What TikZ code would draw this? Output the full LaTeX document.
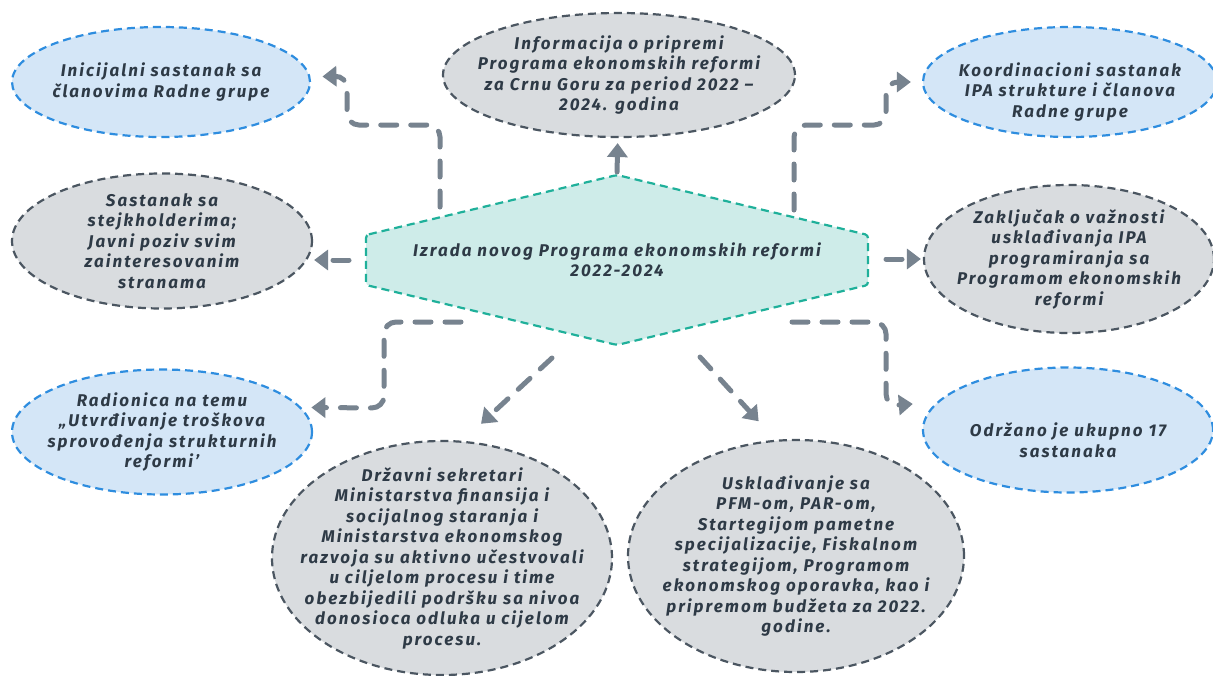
\documentclass[tikz,border=0pt]{standalone}
\usepackage{fontspec}
\setmainfont{Fira Sans}[LetterSpace=12]
\usetikzlibrary{shapes.geometric,arrows.meta}
\definecolor{bluefill}{HTML}{D4E6F7}
\definecolor{blueline}{HTML}{2E8DDF}
\definecolor{grayfill}{HTML}{D9DCDF}
\definecolor{grayline}{HTML}{4B5661}
\definecolor{hexfill}{HTML}{CEECE9}
\definecolor{hexline}{HTML}{1FB09A}
\definecolor{connline}{HTML}{77838F}
\definecolor{txtcol}{HTML}{2E3A46}
\begin{document}
\begin{tikzpicture}[x=1pt,y=-1pt,
  every node/.style={font=\fontsize{17}{20.5}\selectfont\bfseries\itshape,text=txtcol,align=center},
  bubble/.style={ellipse,inner sep=0pt,line width=2.2pt,dash pattern=on 8pt off 5pt},
  bluebubble/.style={bubble,draw=blueline,fill=bluefill},
  graybubble/.style={bubble,draw=grayline,fill=grayfill},
  conn/.style={draw=connline,line width=5pt,line cap=round,dash pattern=on 16pt off 14pt,
    rounded corners=12pt,-{Triangle[length=14pt,width=20pt]}}]
\useasboundingbox (0,0) rectangle (1213,675);
% centre
\path[draw=hexline,fill=hexfill,line width=2.2pt,dash pattern=on 8pt off 5pt,rounded corners=3pt]
  (366,235) -- (617,175) -- (868,235) -- (868,285) -- (617,345) -- (366,285) -- cycle;
\node (izr) at (617,260) {Izrada novog Programa ekonomskih reformi\\2022-2024};
% bubbles
\node[bluebubble,minimum width=298pt,minimum height=110pt,
  label={center:Inicijalni sastanak sa\\članovima Radne grupe}] (ini) at (161,82) {};
\node[graybubble,minimum width=352pt,minimum height=124pt,
  label={center:Informacija o pripremi\\Programa ekonomskih reformi\\za Crnu Goru za period 2022 --\\2024. godina}] (inf) at (619,75) {};
\node[bluebubble,minimum width=294pt,minimum height=110pt,
  label={[yshift=-10pt]center:Koordinacioni sastanak\\IPA strukture i članova\\Radne grupe}] (koo) at (1070,82) {};
\node[graybubble,minimum width=300pt,minimum height=135pt,
  label={center:Sastanak sa\\stejkholderima;\\Javni poziv svim\\zainteresovanim\\stranama}] (sas) at (162,241) {};
\node[graybubble,minimum width=290pt,minimum height=148pt,
  label={center:Zaključak o važnosti\\usklađivanja IPA\\programiranja sa\\Programom ekonomskih\\reformi}] (zak) at (1069,259) {};
\node[bluebubble,minimum width=300pt,minimum height=125pt,
  label={center:Radionica na temu\\„Utvrđivanje troškova\\sprovođenja strukturnih\\reformi'}] (rad) at (162,432) {};
\node[graybubble,minimum width=340pt,minimum height=234pt,
  label={center:Državni sekretari\\Ministarstva finansija i\\socijalnog staranja i\\Ministarstva ekonomskog\\razvoja su aktivno učestvovali\\u ciljelom procesu i time\\obezbijedili podršku sa nivoa\\donosioca odluka u cijelom\\procesu.}] (drz) at (442,558) {};
\node[graybubble,minimum width=336pt,minimum height=232pt,
  label={center:{Usklađivanje sa\\PFM-om, PAR-om,\\Startegijom pametne\\specijalizacije, Fiskalnom\\strategijom, Programom\\ekonomskog oporavka, kao i\\pripremom budžeta za 2022.\\godine.}}] (usk) at (796,556) {};
\node[bluebubble,minimum width=290pt,minimum height=125pt,
  label={[yshift=-10pt]center:Održano je ukupno 17\\sastanaka}] (odr) at (1068,430) {};
% connectors
\coordinate (top) at (617,175);
\coordinate (s1) at (440,207);
\coordinate (s3) at (794,210);
\coordinate (s4) at (349,260);
\coordinate (s5) at (886,259);
\coordinate (s6) at (461,322);
\coordinate (s7) at (552,358);
\coordinate (s8) at (700,357);
\coordinate (s9) at (792,322);
\draw[conn,shorten >=12pt] (s1) -- (440,125) -- (347,125) -- (347,76) -- (ini.2);
\draw[conn,shorten >=5pt,shorten <=3pt] (top) -- (inf);
\draw[conn,shorten >=11pt] (s3) -- (794,125) -- (886,125) -- (886,82) -- (koo);
\draw[conn,shorten >=1pt] (s4) -- (s4 -| sas.east);
\draw[conn,shorten >=2pt] (s5) -- (zak);
\draw[conn,shorten >=10pt] (s6) -- (384,322) -- (384,408) -- (rad.10);
\draw[conn,shorten >=25pt] (s7) -- (drz.80);
\draw[conn,shorten >=25pt] (s8) -- (usk.100);
\draw[conn,shorten >=24pt] (s9) -- (886,322) -- (886,406) -- (odr.168);
\end{tikzpicture}
\end{document}
